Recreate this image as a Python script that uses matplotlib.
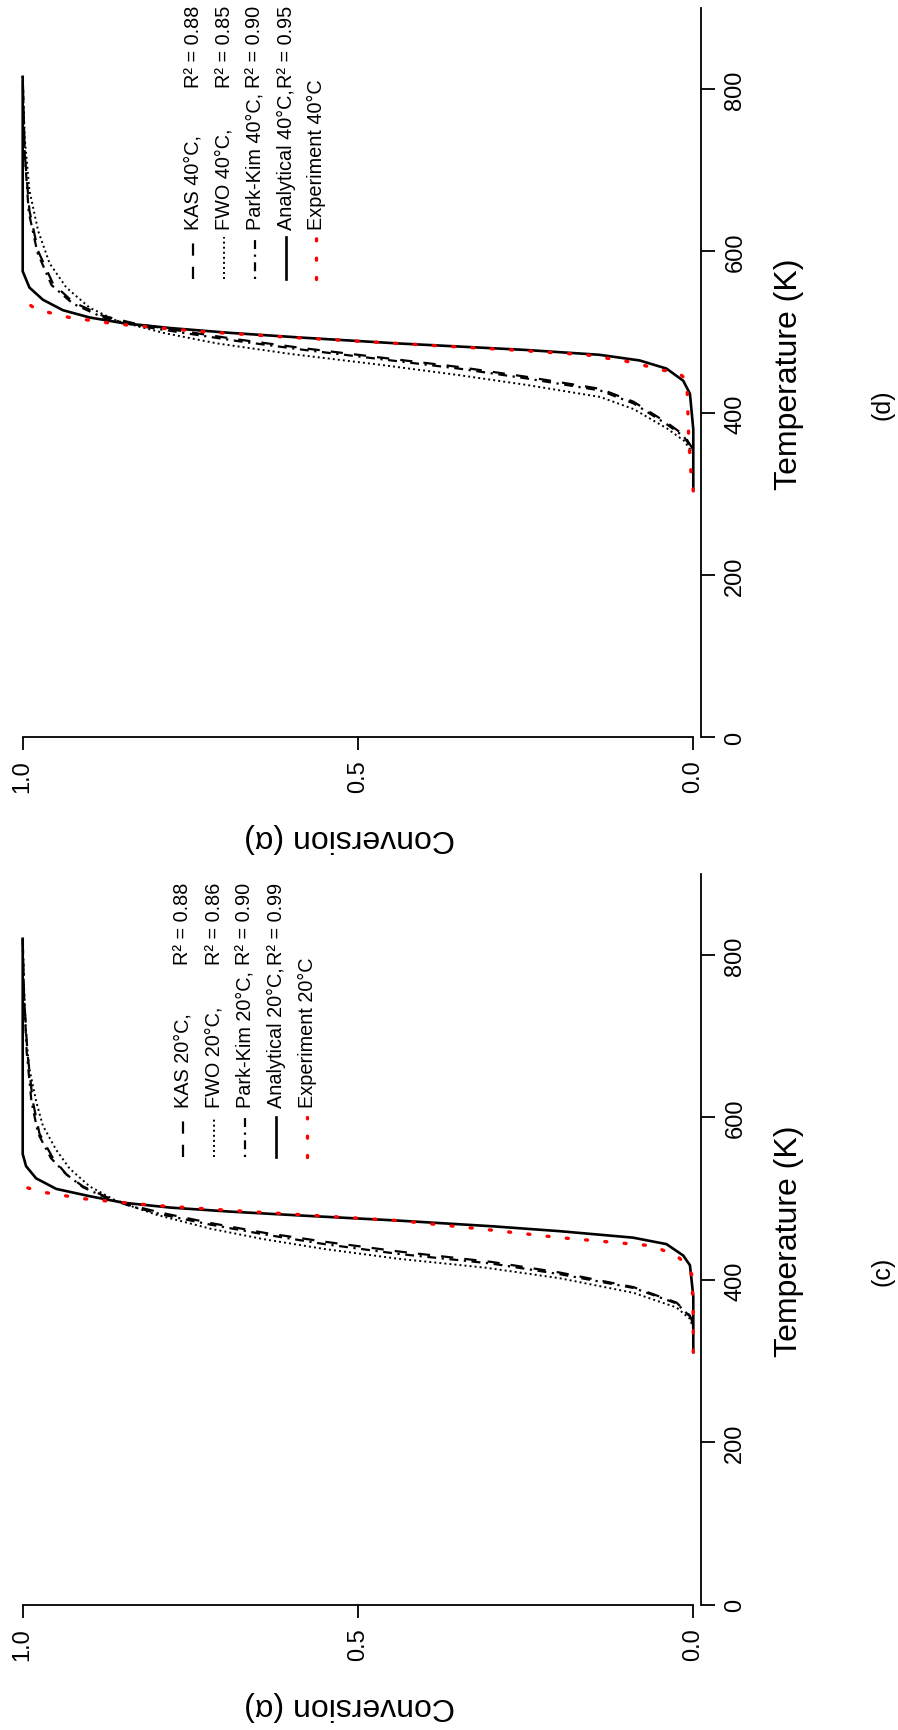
"""Conversion vs temperature, panels (c) 20°C and (d) 40°C, page rotated 90°"""

import matplotlib
matplotlib.use('Agg')
import matplotlib.pyplot as plt

plt.rcParams['font.family'] = ['Liberation Sans', 'DejaVu Sans']

W, H = 898, 1731

# ---- data: temperature (K) and conversion (alpha) ----
# panel (c), 20 C
kas20_T = [345, 356, 372, 391, 409, 422, 435, 447, 458, 470, 482, 492, 502, 515, 530, 550, 580, 620, 680, 750, 820]
kas20_c = [0.0, 0.005, 0.025, 0.089, 0.199, 0.30, 0.44, 0.55, 0.64, 0.72, 0.79, 0.84, 0.875, 0.91, 0.935, 0.955, 0.975, 0.985, 0.993, 0.998, 1.0]
fwo20_T = [340, 352, 366, 384, 402, 415, 426, 438, 450, 463, 480, 497, 515, 537, 560, 590, 620, 660, 700, 760, 820]
fwo20_c = [0.0, 0.005, 0.025, 0.089, 0.199, 0.31, 0.44, 0.55, 0.64, 0.72, 0.80, 0.86, 0.90, 0.93, 0.95, 0.97, 0.98, 0.99, 0.995, 0.998, 1.0]
pk20_T = [343, 355, 371, 390, 407, 420, 432, 444, 456, 468, 480, 491, 501, 514, 530, 550, 580, 620, 680, 750, 820]
pk20_c = [0.0, 0.005, 0.025, 0.089, 0.199, 0.30, 0.44, 0.55, 0.64, 0.72, 0.79, 0.84, 0.875, 0.91, 0.935, 0.958, 0.977, 0.987, 0.994, 0.998, 1.0]
an20_T = [311, 380, 418, 430, 444, 452, 460, 466, 473, 479, 484, 489, 495, 503, 512, 525, 540, 555, 600, 700, 820]
an20_c = [0.0, 0.0, 0.005, 0.015, 0.04, 0.09, 0.20, 0.30, 0.44, 0.58, 0.69, 0.78, 0.85, 0.90, 0.95, 0.98, 0.995, 1.0, 1.0, 1.0, 1.0]
ex20_T = [311, 350, 380, 407, 420, 430, 442, 452, 463, 473, 480, 486, 492, 500, 508, 515]
ex20_c = [0.0, 0.0, 0.001, 0.0024, 0.012, 0.025, 0.062, 0.199, 0.32, 0.44, 0.58, 0.70, 0.81, 0.91, 0.97, 1.0]

# panel (d), 40 C
kas40_T = [355, 373, 388, 414, 430, 445, 457, 469, 480, 491, 501, 510, 520, 537, 560, 600, 650, 720, 815]
kas40_c = [0.0, 0.014, 0.039, 0.089, 0.139, 0.25, 0.35, 0.47, 0.58, 0.68, 0.76, 0.83, 0.88, 0.925, 0.955, 0.977, 0.99, 0.997, 1.0]
fwo40_T = [350, 366, 381, 405, 420, 435, 447, 460, 473, 486, 499, 514, 530, 555, 585, 625, 675, 740, 815]
fwo40_c = [0.0, 0.014, 0.039, 0.089, 0.139, 0.25, 0.35, 0.47, 0.60, 0.71, 0.79, 0.86, 0.90, 0.935, 0.96, 0.977, 0.99, 0.997, 1.0]
pk40_T = [353, 371, 386, 412, 428, 443, 455, 467, 478, 489, 499, 508, 518, 535, 558, 598, 648, 720, 815]
pk40_c = [0.0, 0.014, 0.039, 0.089, 0.139, 0.25, 0.35, 0.47, 0.58, 0.68, 0.76, 0.83, 0.88, 0.925, 0.957, 0.978, 0.991, 0.997, 1.0]
an40_T = [305, 380, 424, 440, 455, 465, 472, 478, 486, 493, 499, 505, 511, 518, 527, 540, 555, 575, 620, 700, 815]
an40_c = [0.0, 0.0, 0.005, 0.015, 0.04, 0.08, 0.14, 0.25, 0.44, 0.58, 0.69, 0.78, 0.85, 0.90, 0.94, 0.97, 0.99, 1.0, 1.0, 1.0, 1.0]
ex40_T = [304, 322, 344, 373, 400, 425, 442, 451, 453, 459, 464, 472, 478, 486, 493, 501, 510, 518, 528, 540]
ex40_c = [0.0, 0.003, 0.005, 0.007, 0.008, 0.009, 0.011, 0.024, 0.047, 0.074, 0.10, 0.16, 0.27, 0.44, 0.59, 0.74, 0.86, 0.93, 0.98, 1.0]

names20 = ['KAS 20°C,', 'FWO 20°C,', 'Park-Kim 20°C,', 'Analytical 20°C,', 'Experiment 20°C']
names40 = ['KAS 40°C,', 'FWO 40°C,', 'Park-Kim 40°C,', 'Analytical 40°C,', 'Experiment 40°C']
r2_20 = ['0.88', '0.86', '0.90', '0.99']
r2_40 = ['0.88', '0.85', '0.90', '0.95']

temp_ticks = [0, 200, 400, 600, 800]
conv_ticks = [0.0, 0.5, 1.0]

# line styles, same order as the legend
styles = [
    dict(color='black', lw=1.6, dashes=(5.5, 5)),
    dict(color='black', lw=1.4, dashes=(1, 1.6)),
    dict(color='black', lw=1.6, dashes=(1, 2.5, 4, 2.5)),
    dict(color='black', lw=1.9, linestyle='-'),
    dict(color='red', lw=2.4, dashes=(0.6, 5.2), dash_capstyle='round'),
]


def px_axes(left, right, bottom, top):
    return [left / W, 1 - bottom / H, (right - left) / W, (bottom - top) / H]


def make_panel(rect, t_top, series, names, r2, leg, letter, y0):
    ax = fig.add_axes(rect)
    ax.set_facecolor('none')
    for (T, c), st in zip(series, styles):
        ax.plot(c, T, **st)

    # conversion grows to the left, temperature grows upward
    ax.set_xlim(1.0264, -0.0279)
    ax.set_ylim(0, t_top)

    for s in ('top', 'left'):
        ax.spines[s].set_visible(False)
    ax.spines['right'].set_position(('data', -0.011))
    ax.spines['right'].set_bounds(0, 900)
    ax.spines['bottom'].set_bounds(0, 1)
    for s in ('right', 'bottom'):
        ax.spines[s].set_linewidth(1.3)

    ax.yaxis.tick_right()
    ax.set_yticks(temp_ticks)
    ax.set_yticklabels([str(t) for t in temp_ticks], rotation=90, va='center')
    ax.set_xticks(conv_ticks)
    ax.set_xticklabels(['%.1f' % v for v in conv_ticks], rotation=90)
    ax.tick_params(axis='y', direction='out', length=10, width=1.3, pad=7, labelsize=17)
    ax.tick_params(axis='x', direction='out', length=9, width=1.3, pad=7, labelsize=17)

    # legend drawn by hand, rotated with the page
    kx, k0, k1, tx, rx = leg
    for i, (st, nm) in enumerate(zip(styles, names)):
        x = kx[i]
        ax.plot([x, x], [k0, k1], transform=ax.transAxes, clip_on=False, **st)
        ax.text(x, tx, nm, transform=ax.transAxes, rotation=90, rotation_mode='anchor',
                ha='left', va='center', fontsize=14.3)
        if i < len(r2):
            ax.text(x, rx, 'R² = ' + r2[i], transform=ax.transAxes, rotation=90,
                    rotation_mode='anchor', ha='left', va='center', fontsize=14.3)

    # axis titles and panel letter (page coordinates in pixels)
    fig.text(789 / W, 1 - (y0 - 364) / H, 'Temperature (K)', rotation=90,
             ha='center', va='center', fontsize=23)
    fig.text(350 / W, 1 - (y0 + 100) / H, 'Conversion (α)', rotation=180,
             ha='center', va='center', fontsize=23)
    fig.text(883 / W, 1 - (y0 - 334) / H, letter, rotation=90,
             ha='center', va='center', fontsize=18)
    return ax


fig = plt.figure(figsize=(W / 100, H / 100), dpi=100)
fig.patch.set_facecolor('white')


def leg_coords(rect, kx_px, k0_px, k1_px, t_px, r_px):
    left = rect[0] * W
    width = rect[2] * W
    bottom = (1 - rect[1]) * H
    height = rect[3] * H
    fx = [(x - left) / width for x in kx_px]
    fy = lambda y: (bottom - y) / height
    return fx, fy(k1_px), fy(k0_px), fy(t_px), fy(r_px)


# panel (c): lower half of the page
rect_c = px_axes(5, 712, 1605.7, 860)
leg_c = leg_coords(rect_c, [183, 214, 245, 276, 307], 1118, 1158, 1108, 965)
make_panel(rect_c, (1605.7 - 860) / 0.8121,
           [(kas20_T, kas20_c), (fwo20_T, fwo20_c), (pk20_T, pk20_c),
            (an20_T, an20_c), (ex20_T, ex20_c)],
           names20, r2_20, leg_c, '(c)', 1605.7)

# panel (d): upper half of the page
rect_d = px_axes(5, 712, 738.3, 0)
leg_d = leg_coords(rect_d, [193, 224, 255, 286, 316], 238, 280, 230, 88)
make_panel(rect_d, 738.3 / 0.8104,
           [(kas40_T, kas40_c), (fwo40_T, fwo40_c), (pk40_T, pk40_c),
            (an40_T, an40_c), (ex40_T, ex40_c)],
           names40, r2_40, leg_d, '(d)', 738.3)

fig.savefig('out.png', dpi=100)
